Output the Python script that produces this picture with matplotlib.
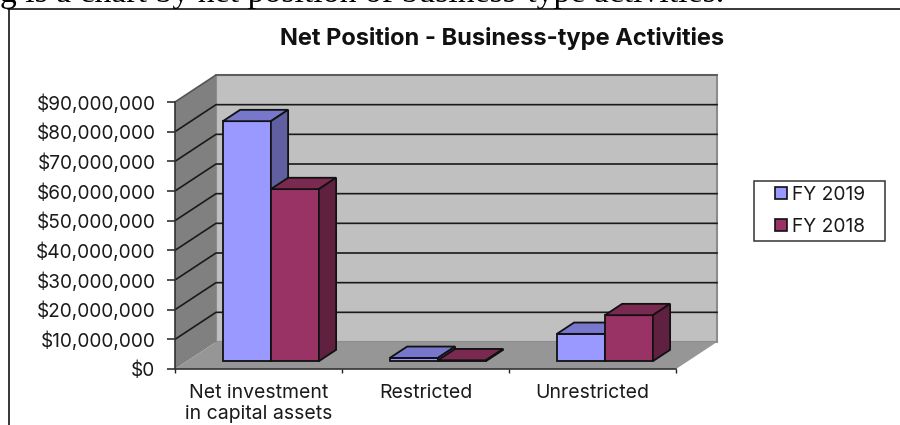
import matplotlib
matplotlib.use("Agg")
import matplotlib.pyplot as plt
from matplotlib.patches import Polygon, Patch, Rectangle

# values
categories = ["Net investment\nin capital assets", "Restricted", "Unrestricted"]
fy2019 = [80900000, 1100000, 9200000]
fy2018 = [58000000, 300000, 15500000]
yticks = [0, 10000000, 20000000, 30000000, 40000000, 50000000, 60000000, 70000000, 80000000, 90000000]

W, H = 900, 425
plt.rcParams["font.family"] = ["Inter", "Liberation Sans", "DejaVu Sans"]

fig = plt.figure(figsize=(W / 100, H / 100), dpi=100)

# front plane of the 3d box, in pixels
left, right, top, bottom = 175, 676, 102, 369
ax = fig.add_axes([left / W, 1 - bottom / H, (right - left) / W, (bottom - top) / H])
ax.set_xlim(0, 3)
ax.set_ylim(0, 90000000)
ax.patch.set_alpha(0)

# depth goes from 0 (front) to 1 (back wall)
dx = 41 / (right - left) * 3
dy = 27 / (bottom - top) * 90000000


def P(x, y, d=0):
    return (x + d * dx, y + d * dy)


def face(pts, color, edge="none", lw=1.0, z=2):
    ax.add_patch(Polygon(pts, closed=True, facecolor=color, edgecolor=edge,
                         linewidth=lw, zorder=z, clip_on=False, joinstyle="miter"))


ymax = yticks[-1]

# walls and floor
face([P(0, 0, 1), P(3, 0, 1), P(3, ymax, 1), P(0, ymax, 1)], "#C0C0C0", "#8C8C8C", 1.5, z=1)
face([P(0, 0, 0), P(0, 0, 1), P(0, ymax, 1), P(0, ymax, 0)], "#808080", z=1.1)
face([P(0, 0, 0), P(3, 0, 0), P(3, 0, 1), P(0, 0, 1)], "#969696", z=1.1)

# gridlines, back wall and side wall
for t in yticks[1:]:
    c = "#555555" if t == ymax else "#1A1A1A"
    xs, ys = zip(P(0, t, 0), P(0, t, 1), P(3, t, 1))
    ax.plot(xs, ys, color=c, lw=1.2, zorder=1.5, clip_on=False, solid_joinstyle="miter")

# bars
gap = 36 / 167
bw = 48 / 167
d0, d1 = 0.29, 0.71


def bar3d(x0, v, front, top_c, side_c):
    x1 = x0 + bw
    face([P(x0, 0, d0), P(x1, 0, d0), P(x1, v, d0), P(x0, v, d0)], front, "#111111", 1.3, z=3)
    face([P(x0, v, d0), P(x1, v, d0), P(x1, v, d1), P(x0, v, d1)], top_c, "#111111", 1.3, z=3)
    face([P(x1, 0, d0), P(x1, 0, d1), P(x1, v, d1), P(x1, v, d0)], side_c, "#111111", 1.3, z=3)


for i in range(len(categories)):
    bar3d(i + gap, fy2019[i], "#9999FF", "#7777CC", "#6060A0")
    bar3d(i + gap + bw, fy2018[i], "#993366", "#7A2950", "#602040")

# axes
for s in ["top", "right"]:
    ax.spines[s].set_visible(False)
for s in ["left", "bottom"]:
    ax.spines[s].set_linewidth(1.2)
    ax.spines[s].set_color("#333333")
    ax.spines[s].set_zorder(2.5)

ax.set_yticks(yticks)
ax.set_yticklabels(["${:,}".format(t) for t in yticks], fontsize=13.7, color="#1A1A1A")
ax.tick_params(axis="y", length=6, width=1.1, pad=8, color="#222222")
ax.set_xticks([0, 1, 2, 3])
ax.set_xticklabels([])
ax.set_xticks([0.5, 1.5, 2.5], minor=True)
ax.set_xticklabels(categories, minor=True, fontsize=14, color="#1A1A1A", linespacing=1.2)
ax.tick_params(axis="x", which="major", length=3, width=1.0, color="#222222")
ax.tick_params(axis="x", which="minor", length=0, pad=11)

# title
fig.text(502 / W, 1 - 39 / H, "Net Position - Business-type Activities", ha="center", va="center",
         fontsize=17, fontweight="bold", color="#111111")

# legend, the frame is wider than what the legend would make for itself
fig.add_artist(Rectangle((754 / W, 1 - 241 / H), 131 / W, 60 / H, transform=fig.transFigure,
                         facecolor="white", edgecolor="#333333", linewidth=1.1))
handles = [Patch(facecolor="#9999FF", edgecolor="#111111", linewidth=1.2, label="FY 2019"),
           Patch(facecolor="#993366", edgecolor="#111111", linewidth=1.2, label="FY 2018")]
fig.legend(handles=handles, loc="center left", bbox_to_anchor=(775 / W, 1 - 211 / H),
           bbox_transform=fig.transFigure, fontsize=13.8, frameon=False,
           handlelength=0.6, handleheight=0.6, handletextpad=0.3, labelspacing=0.72,
           borderpad=0, borderaxespad=0, labelcolor="#1A1A1A")

# frame of the picture and the cut off sentence above it
fig.add_artist(plt.Line2D([8 / W, 1], [1 - 8.5 / H, 1 - 8.5 / H], color="black", lw=1.1))
fig.add_artist(plt.Line2D([8.5 / W, 8.5 / W], [0, 1 - 8.5 / H], color="black", lw=1.1))
fig.text(-122 / W, 1 - 2 / H, "Following is a chart by net position of business-type activities.",
         fontsize=24.3, family="Liberation Serif", color="black", ha="left", va="baseline")

fig.savefig("out.png", dpi=100)
